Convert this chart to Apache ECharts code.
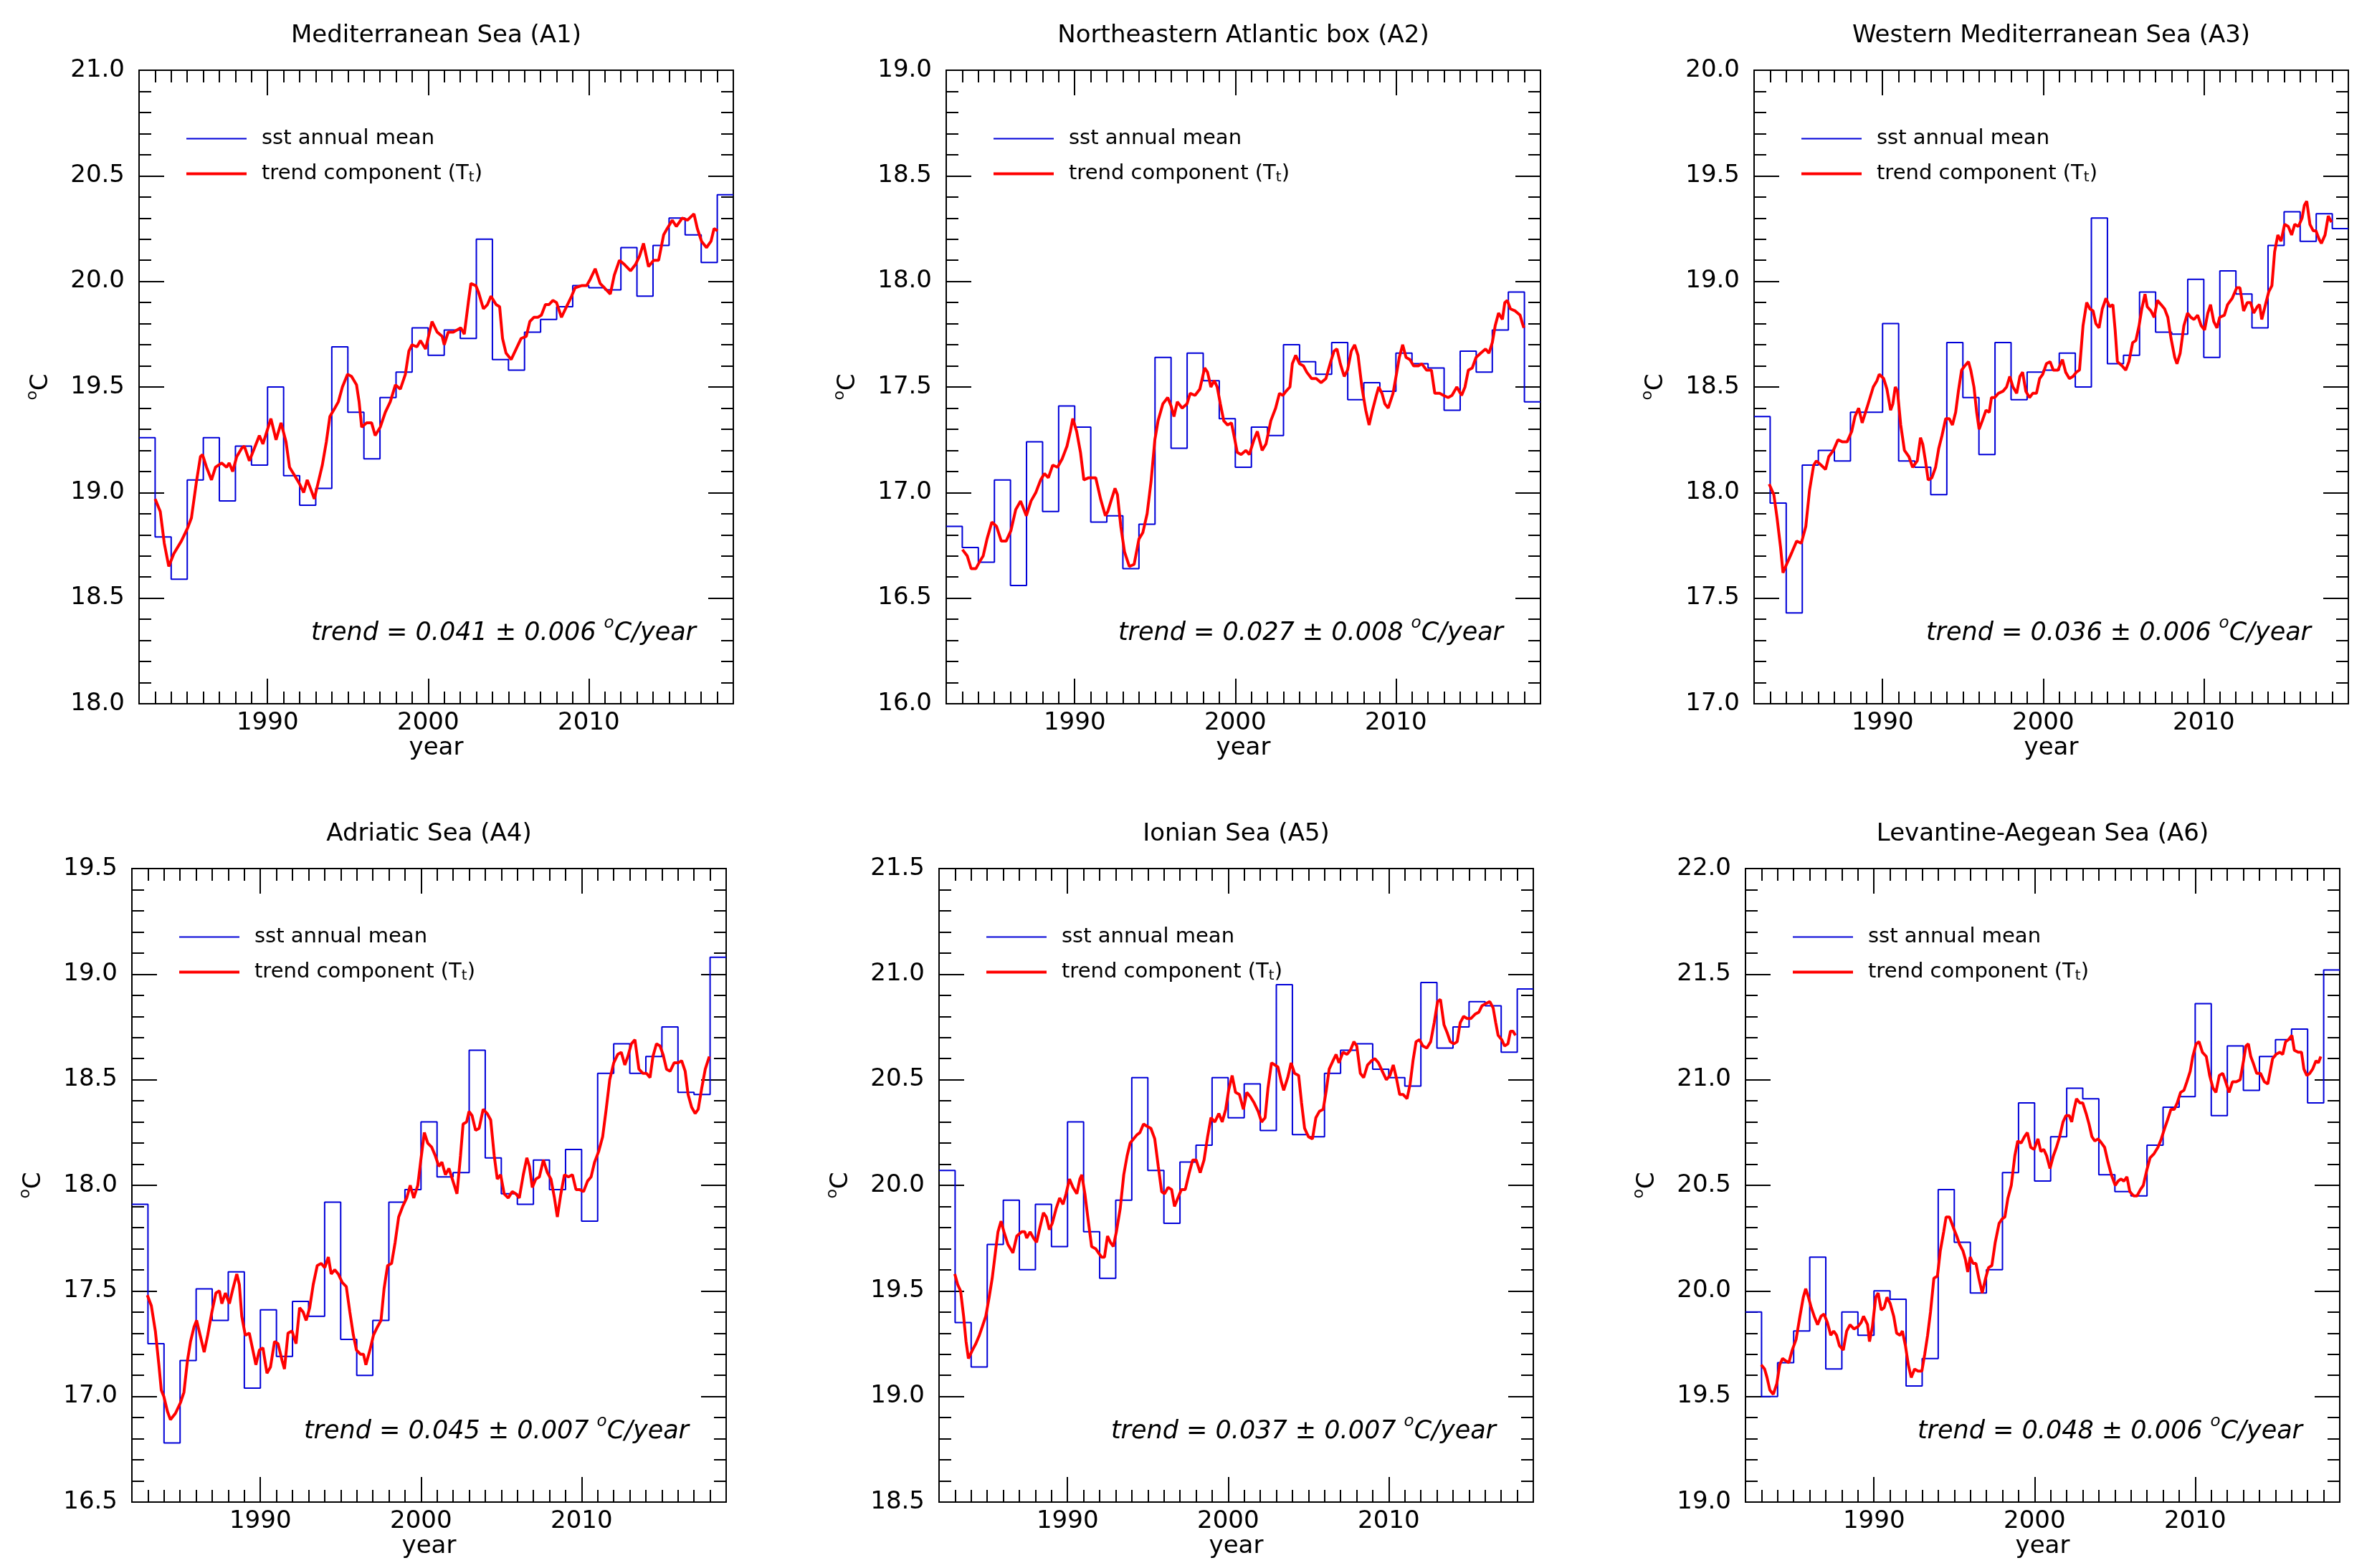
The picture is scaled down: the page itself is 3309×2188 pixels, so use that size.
<!DOCTYPE html>
<html>
<head>
  <meta charset="utf-8">
  <title>SST annual mean and trend component</title>
  <script src="https://cdn.jsdelivr.net/npm/echarts@6/dist/echarts.min.js"></script>
  <style>
    html, body {
      margin: 0;
      padding: 0;
      background: #fff;
    }

    #chart {
      width: 3309px;
      height: 2188px;
    }
  </style>
</head>
<body>
<div id="chart"></div>
<script>
  // 年份与刻度
  var years = [1982, 1983, 1984, 1985, 1986, 1987, 1988, 1989, 1990, 1991, 1992, 1993, 1994,
    1995, 1996, 1997, 1998, 1999, 2000, 2001, 2002, 2003, 2004, 2005, 2006, 2007, 2008,
    2009, 2010, 2011, 2012, 2013, 2014, 2015, 2016, 2017, 2018];
  var yearTicks = [1990, 2000, 2010];

  var titles = ['Mediterranean Sea (A1)', 'Northeastern Atlantic box (A2)', 'Western Mediterranean Sea (A3)',
    'Adriatic Sea (A4)', 'Ionian Sea (A5)', 'Levantine-Aegean Sea (A6)'];
  var trendValues = ['0.041', '0.027', '0.036', '0.045', '0.037', '0.048'];
  var trendErrors = ['0.006', '0.008', '0.006', '0.007', '0.007', '0.006'];
  var yMin = [18, 16, 17, 16.5, 18.5, 19];
  var yMax = [21, 19, 20, 19.5, 21.5, 22];

  // 年平均 sst
  var annualA1 = [19.26, 18.79, 18.59, 19.06, 19.26, 18.96, 19.22, 19.13, 19.50, 19.08, 18.94, 19.02, 19.69,
    19.38, 19.16, 19.45, 19.57, 19.78, 19.65, 19.77, 19.73, 20.20, 19.63, 19.58, 19.76, 19.82, 19.88,
    19.98, 19.97, 19.96, 20.16, 19.93, 20.17, 20.30, 20.22, 20.09, 20.41];
  var annualA2 = [16.84, 16.74, 16.67, 17.06, 16.56, 17.24, 16.91, 17.41, 17.31, 16.86, 16.89, 16.64, 16.85,
    17.64, 17.21, 17.66, 17.53, 17.35, 17.12, 17.31, 17.27, 17.70, 17.62, 17.56, 17.71, 17.44, 17.52,
    17.48, 17.66, 17.61, 17.59, 17.39, 17.67, 17.57, 17.77, 17.95, 17.43];
  var annualA3 = [18.36, 17.95, 17.43, 18.13, 18.20, 18.15, 18.38, 18.38, 18.80, 18.15, 18.12, 17.99, 18.71,
    18.45, 18.18, 18.71, 18.44, 18.57, 18.58, 18.66, 18.50, 19.30, 18.61, 18.65, 18.95, 18.76, 18.75,
    19.01, 18.64, 19.05, 18.94, 18.78, 19.17, 19.33, 19.19, 19.32, 19.25];
  var annualA4 = [17.91, 17.25, 16.78, 17.17, 17.51, 17.36, 17.59, 17.04, 17.41, 17.19, 17.45, 17.38, 17.92,
    17.27, 17.10, 17.36, 17.92, 17.98, 18.30, 18.04, 18.06, 18.64, 18.13, 17.96, 17.91, 18.12, 17.98,
    18.17, 17.83, 18.53, 18.67, 18.53, 18.61, 18.75, 18.44, 18.43, 19.08];
  var annualA5 = [20.07, 19.35, 19.14, 19.72, 19.93, 19.60, 19.91, 19.71, 20.30, 19.78, 19.56, 19.93, 20.51,
    20.07, 19.82, 20.11, 20.19, 20.51, 20.32, 20.48, 20.26, 20.95, 20.24, 20.23, 20.53, 20.64, 20.67,
    20.55, 20.51, 20.47, 20.96, 20.65, 20.75, 20.87, 20.85, 20.63, 20.93];
  var annualA6 = [19.90, 19.50, 19.66, 19.81, 20.16, 19.63, 19.90, 19.79, 20.00, 19.96, 19.55, 19.68, 20.48,
    20.23, 19.99, 20.10, 20.56, 20.89, 20.52, 20.73, 20.96, 20.91, 20.55, 20.47, 20.45, 20.69, 20.87,
    20.92, 21.36, 20.83, 21.16, 20.95, 21.11, 21.19, 21.24, 20.89, 21.52];

  // 趋势分量 [年, 值]
  var trendA1 = [[1983.00, 18.97], [1983.32, 18.91], [1983.57, 18.76], [1983.85, 18.65], [1984.16, 18.71],
    [1984.63, 18.77], [1985.01, 18.83], [1985.26, 18.88], [1985.57, 19.05], [1985.82, 19.17], [1985.95, 19.18],
    [1986.20, 19.12], [1986.51, 19.06], [1986.76, 19.12], [1987.14, 19.14], [1987.45, 19.12], [1987.61, 19.14],
    [1987.83, 19.10], [1988.08, 19.17], [1988.39, 19.21], [1988.55, 19.22], [1988.87, 19.15], [1989.18, 19.21],
    [1989.49, 19.27], [1989.71, 19.23], [1989.96, 19.29], [1990.21, 19.35], [1990.53, 19.25], [1990.84, 19.33],
    [1991.15, 19.24], [1991.37, 19.12], [1991.69, 19.08], [1992.00, 19.04], [1992.25, 19.00], [1992.47, 19.06],
    [1992.72, 19.01], [1992.91, 18.97], [1993.16, 19.05], [1993.41, 19.13], [1993.66, 19.24], [1993.88, 19.36],
    [1994.19, 19.40], [1994.41, 19.43], [1994.66, 19.50], [1994.98, 19.56], [1995.23, 19.55], [1995.54, 19.51],
    [1995.70, 19.43], [1995.86, 19.31], [1996.17, 19.33], [1996.48, 19.33], [1996.70, 19.27], [1997.02, 19.31],
    [1997.33, 19.38], [1997.64, 19.43], [1997.96, 19.51], [1998.27, 19.49], [1998.58, 19.56], [1998.80, 19.67],
    [1998.99, 19.70], [1999.30, 19.69], [1999.52, 19.72], [1999.84, 19.68], [2000.24, 19.81], [2000.56, 19.76],
    [2000.87, 19.74], [2001.00, 19.70], [2001.25, 19.76], [2001.56, 19.76], [2002.03, 19.78], [2002.25, 19.75],
    [2002.50, 19.90], [2002.66, 19.99], [2002.97, 19.98], [2003.13, 19.95], [2003.44, 19.87], [2003.69, 19.89],
    [2003.91, 19.93], [2004.23, 19.89], [2004.45, 19.88], [2004.63, 19.73], [2004.85, 19.66], [2005.17, 19.63],
    [2005.48, 19.68], [2005.79, 19.73], [2006.11, 19.74], [2006.33, 19.81], [2006.58, 19.83], [2006.83, 19.83],
    [2007.05, 19.84], [2007.30, 19.89], [2007.52, 19.89], [2007.77, 19.91], [2007.99, 19.90], [2008.30, 19.83],
    [2008.61, 19.88], [2008.93, 19.93], [2009.15, 19.97], [2009.55, 19.98], [2009.87, 19.98], [2010.09, 20.01],
    [2010.40, 20.06], [2010.71, 19.99], [2010.97, 19.97], [2011.34, 19.94], [2011.59, 20.03], [2011.91, 20.10],
    [2012.22, 20.08], [2012.60, 20.05], [2012.91, 20.08], [2013.16, 20.12], [2013.41, 20.18], [2013.72, 20.07],
    [2014.04, 20.10], [2014.35, 20.10], [2014.66, 20.22], [2014.88, 20.25], [2015.20, 20.29], [2015.45, 20.26],
    [2015.82, 20.30], [2016.14, 20.29], [2016.55, 20.32], [2016.76, 20.25], [2017.02, 20.19], [2017.33, 20.16],
    [2017.61, 20.19], [2017.80, 20.25], [2018.02, 20.24]];
  var trendA2 = [[1983.01, 16.73], [1983.31, 16.70], [1983.55, 16.64], [1983.85, 16.64], [1984.06, 16.67],
    [1984.30, 16.70], [1984.54, 16.78], [1984.84, 16.86], [1985.13, 16.84], [1985.43, 16.77], [1985.73, 16.77],
    [1986.03, 16.82], [1986.33, 16.92], [1986.63, 16.96], [1986.99, 16.89], [1987.28, 16.96], [1987.58, 17.00],
    [1987.88, 17.06], [1988.12, 17.09], [1988.36, 17.07], [1988.63, 17.13], [1988.93, 17.12], [1989.22, 17.16],
    [1989.52, 17.22], [1989.73, 17.29], [1989.88, 17.35], [1990.12, 17.29], [1990.36, 17.19], [1990.57, 17.06],
    [1990.87, 17.07], [1991.31, 17.07], [1991.61, 16.97], [1991.91, 16.89], [1992.06, 16.91], [1992.30, 16.97],
    [1992.51, 17.02], [1992.66, 16.99], [1992.87, 16.84], [1993.10, 16.72], [1993.40, 16.65], [1993.70, 16.66],
    [1994.00, 16.78], [1994.24, 16.81], [1994.51, 16.90], [1994.75, 17.05], [1994.99, 17.25], [1995.19, 17.34],
    [1995.49, 17.42], [1995.79, 17.45], [1996.00, 17.41], [1996.18, 17.36], [1996.39, 17.43], [1996.69, 17.40],
    [1996.99, 17.42], [1997.19, 17.47], [1997.49, 17.46], [1997.79, 17.49], [1998.09, 17.59], [1998.27, 17.57],
    [1998.48, 17.50], [1998.69, 17.53], [1998.87, 17.50], [1999.07, 17.42], [1999.28, 17.34], [1999.52, 17.32],
    [1999.76, 17.33], [1999.97, 17.25], [2000.12, 17.19], [2000.36, 17.18], [2000.66, 17.20], [2000.87, 17.18],
    [2001.16, 17.25], [2001.37, 17.29], [2001.67, 17.20], [2001.91, 17.23], [2002.21, 17.34], [2002.51, 17.40],
    [2002.75, 17.47], [2002.96, 17.46], [2003.16, 17.48], [2003.40, 17.50], [2003.55, 17.61], [2003.76, 17.65],
    [2004.00, 17.61], [2004.24, 17.60], [2004.45, 17.57], [2004.75, 17.54], [2005.04, 17.54], [2005.34, 17.52],
    [2005.64, 17.54], [2005.94, 17.62], [2006.15, 17.67], [2006.33, 17.68], [2006.54, 17.61], [2006.78, 17.55],
    [2006.99, 17.58], [2007.22, 17.67], [2007.43, 17.70], [2007.64, 17.65], [2007.88, 17.50], [2008.12, 17.39],
    [2008.33, 17.32], [2008.54, 17.39], [2008.78, 17.46], [2008.93, 17.50], [2009.13, 17.47], [2009.31, 17.42],
    [2009.52, 17.40], [2009.82, 17.47], [2010.03, 17.56], [2010.21, 17.64], [2010.42, 17.70], [2010.63, 17.64],
    [2010.87, 17.63], [2011.10, 17.60], [2011.40, 17.60], [2011.61, 17.61], [2011.91, 17.58], [2012.21, 17.58],
    [2012.42, 17.47], [2012.72, 17.47], [2012.96, 17.46], [2013.25, 17.45], [2013.49, 17.46], [2013.79, 17.50],
    [2014.09, 17.46], [2014.30, 17.50], [2014.51, 17.58], [2014.75, 17.59], [2014.99, 17.64], [2015.28, 17.66],
    [2015.58, 17.68], [2015.79, 17.66], [2016.00, 17.71], [2016.18, 17.79], [2016.39, 17.85], [2016.63, 17.82],
    [2016.78, 17.90], [2016.93, 17.91], [2017.13, 17.87], [2017.43, 17.86], [2017.73, 17.84], [2017.88, 17.80],
    [2017.97, 17.78]];
  var trendA3 = [[1982.94, 18.04], [1983.23, 17.99], [1983.43, 17.88], [1983.65, 17.74], [1983.80, 17.62],
    [1984.08, 17.67], [1984.37, 17.72], [1984.65, 17.77], [1984.94, 17.76], [1985.22, 17.84], [1985.45, 18.01],
    [1985.71, 18.13], [1985.88, 18.15], [1986.17, 18.13], [1986.45, 18.11], [1986.65, 18.17], [1986.94, 18.20],
    [1987.22, 18.25], [1987.51, 18.24], [1987.79, 18.24], [1988.08, 18.29], [1988.28, 18.36], [1988.51, 18.40],
    [1988.73, 18.33], [1989.02, 18.40], [1989.22, 18.45], [1989.42, 18.50], [1989.65, 18.53], [1989.79, 18.56],
    [1990.07, 18.54], [1990.27, 18.49], [1990.50, 18.39], [1990.64, 18.42], [1990.79, 18.50], [1990.93, 18.48],
    [1991.13, 18.32], [1991.36, 18.20], [1991.64, 18.17], [1991.87, 18.12], [1992.16, 18.15], [1992.36, 18.26],
    [1992.50, 18.23], [1992.67, 18.15], [1992.84, 18.06], [1993.07, 18.07], [1993.30, 18.12], [1993.50, 18.21],
    [1993.70, 18.27], [1993.93, 18.35], [1994.15, 18.35], [1994.35, 18.32], [1994.55, 18.38], [1994.72, 18.48],
    [1994.92, 18.58], [1995.12, 18.60], [1995.35, 18.62], [1995.49, 18.58], [1995.69, 18.50], [1995.86, 18.38],
    [1996.01, 18.30], [1996.21, 18.34], [1996.44, 18.39], [1996.64, 18.38], [1996.78, 18.45], [1996.98, 18.45],
    [1997.21, 18.47], [1997.50, 18.48], [1997.72, 18.50], [1997.92, 18.55], [1998.12, 18.50], [1998.35, 18.47],
    [1998.55, 18.55], [1998.72, 18.57], [1998.92, 18.48], [1999.15, 18.45], [1999.35, 18.47], [1999.58, 18.47],
    [1999.78, 18.54], [1999.97, 18.56], [2000.20, 18.61], [2000.43, 18.62], [2000.63, 18.58], [2000.92, 18.58],
    [2001.20, 18.63], [2001.40, 18.57], [2001.63, 18.54], [2001.86, 18.55], [2002.06, 18.57], [2002.26, 18.58],
    [2002.48, 18.79], [2002.71, 18.90], [2002.91, 18.87], [2003.11, 18.86], [2003.28, 18.80], [2003.48, 18.78],
    [2003.68, 18.87], [2003.91, 18.92], [2004.14, 18.88], [2004.34, 18.89], [2004.48, 18.77], [2004.62, 18.62],
    [2004.91, 18.60], [2005.14, 18.58], [2005.34, 18.62], [2005.57, 18.71], [2005.77, 18.72], [2005.97, 18.79],
    [2006.14, 18.87], [2006.34, 18.94], [2006.48, 18.88], [2006.71, 18.86], [2006.91, 18.83], [2007.11, 18.91],
    [2007.34, 18.89], [2007.56, 18.87], [2007.76, 18.83], [2007.96, 18.73], [2008.19, 18.64], [2008.33, 18.61],
    [2008.53, 18.66], [2008.76, 18.79], [2008.99, 18.85], [2009.19, 18.83], [2009.39, 18.82], [2009.62, 18.84],
    [2009.84, 18.79], [2010.05, 18.77], [2010.25, 18.85], [2010.42, 18.89], [2010.62, 18.81], [2010.82, 18.78],
    [2010.99, 18.83], [2011.28, 18.84], [2011.48, 18.89], [2011.77, 18.92], [2012.05, 18.97], [2012.25, 18.97],
    [2012.48, 18.86], [2012.71, 18.90], [2012.91, 18.90], [2013.11, 18.85], [2013.33, 18.88], [2013.47, 18.89],
    [2013.61, 18.82], [2013.84, 18.89], [2014.04, 18.95], [2014.24, 18.98], [2014.41, 19.14], [2014.61, 19.22],
    [2014.81, 19.19], [2015.03, 19.27], [2015.26, 19.26], [2015.47, 19.22], [2015.66, 19.27], [2015.89, 19.26],
    [2016.12, 19.30], [2016.26, 19.36], [2016.41, 19.38], [2016.61, 19.27], [2016.81, 19.24], [2016.98, 19.24],
    [2017.18, 19.20], [2017.32, 19.18], [2017.55, 19.22], [2017.75, 19.31], [2017.95, 19.28]];
  var trendA4 = [[1982.96, 17.48], [1983.21, 17.43], [1983.46, 17.31], [1983.68, 17.15], [1983.83, 17.03],
    [1983.99, 17.00], [1984.21, 16.93], [1984.40, 16.89], [1984.71, 16.92], [1985.02, 16.97], [1985.24, 17.02],
    [1985.46, 17.17], [1985.65, 17.26], [1985.87, 17.33], [1986.03, 17.36], [1986.25, 17.29], [1986.50, 17.21],
    [1986.72, 17.29], [1986.98, 17.40], [1987.23, 17.49], [1987.45, 17.50], [1987.60, 17.44], [1987.82, 17.49],
    [1988.07, 17.44], [1988.29, 17.51], [1988.53, 17.58], [1988.69, 17.53], [1988.84, 17.38], [1989.06, 17.29],
    [1989.31, 17.30], [1989.53, 17.22], [1989.72, 17.15], [1989.94, 17.22], [1990.16, 17.23], [1990.41, 17.11],
    [1990.63, 17.14], [1990.88, 17.26], [1991.10, 17.25], [1991.35, 17.17], [1991.50, 17.13], [1991.72, 17.30],
    [1991.97, 17.31], [1992.22, 17.25], [1992.44, 17.42], [1992.66, 17.40], [1992.85, 17.36], [1993.07, 17.42],
    [1993.29, 17.53], [1993.54, 17.62], [1993.79, 17.63], [1994.01, 17.61], [1994.23, 17.66], [1994.41, 17.58],
    [1994.63, 17.60], [1994.85, 17.58], [1995.10, 17.54], [1995.35, 17.52], [1995.57, 17.40], [1995.79, 17.29],
    [1995.98, 17.22], [1996.23, 17.20], [1996.42, 17.20], [1996.57, 17.15], [1996.82, 17.22], [1997.04, 17.29],
    [1997.29, 17.33], [1997.51, 17.36], [1997.70, 17.51], [1997.92, 17.62], [1998.17, 17.63], [1998.39, 17.73],
    [1998.61, 17.85], [1998.86, 17.90], [1999.11, 17.94], [1999.33, 18.00], [1999.55, 17.94], [1999.80, 18.00],
    [1999.99, 18.12], [2000.21, 18.25], [2000.42, 18.20], [2000.67, 18.18], [2000.89, 18.14], [2001.11, 18.09],
    [2001.30, 18.11], [2001.52, 18.05], [2001.74, 18.08], [2001.99, 18.02], [2002.24, 17.96], [2002.46, 18.14],
    [2002.62, 18.29], [2002.84, 18.30], [2002.99, 18.35], [2003.18, 18.33], [2003.40, 18.26], [2003.62, 18.27],
    [2003.87, 18.36], [2004.12, 18.34], [2004.34, 18.31], [2004.56, 18.14], [2004.75, 18.03], [2004.96, 18.05],
    [2005.18, 17.96], [2005.43, 17.94], [2005.68, 17.97], [2005.90, 17.96], [2006.12, 17.94], [2006.37, 18.05],
    [2006.59, 18.13], [2006.75, 18.09], [2006.93, 17.99], [2007.15, 18.03], [2007.37, 18.04], [2007.62, 18.12],
    [2007.87, 18.06], [2008.09, 18.03], [2008.31, 17.94], [2008.49, 17.85], [2008.71, 17.96], [2008.93, 18.05],
    [2009.18, 18.04], [2009.43, 18.05], [2009.65, 17.98], [2009.87, 17.98], [2010.12, 17.97], [2010.37, 18.02],
    [2010.59, 18.04], [2010.81, 18.11], [2011.06, 18.16], [2011.31, 18.23], [2011.53, 18.36], [2011.75, 18.50],
    [2012.00, 18.58], [2012.25, 18.62], [2012.47, 18.63], [2012.69, 18.57], [2012.88, 18.61], [2013.10, 18.67],
    [2013.32, 18.69], [2013.57, 18.55], [2013.82, 18.53], [2014.04, 18.53], [2014.26, 18.51], [2014.44, 18.61],
    [2014.66, 18.67], [2014.88, 18.66], [2015.07, 18.62], [2015.29, 18.55], [2015.51, 18.54], [2015.76, 18.58],
    [2016.01, 18.58], [2016.23, 18.59], [2016.45, 18.54], [2016.63, 18.43], [2016.85, 18.37], [2017.07, 18.34],
    [2017.26, 18.36], [2017.48, 18.46], [2017.70, 18.55], [2017.95, 18.61]];
  var trendA5 = [[1982.98, 19.58], [1983.16, 19.53], [1983.34, 19.50], [1983.53, 19.38], [1983.68, 19.26],
    [1983.83, 19.18], [1984.08, 19.22], [1984.29, 19.25], [1984.51, 19.29], [1984.69, 19.33], [1984.91, 19.38],
    [1985.12, 19.47], [1985.31, 19.56], [1985.52, 19.69], [1985.67, 19.78], [1985.86, 19.83], [1986.04, 19.78],
    [1986.29, 19.72], [1986.60, 19.68], [1986.84, 19.76], [1987.15, 19.78], [1987.34, 19.78], [1987.46, 19.75],
    [1987.67, 19.78], [1987.88, 19.75], [1988.07, 19.73], [1988.28, 19.80], [1988.50, 19.87], [1988.68, 19.85],
    [1988.87, 19.79], [1989.05, 19.82], [1989.29, 19.89], [1989.51, 19.94], [1989.72, 19.91], [1989.91, 19.96],
    [1990.12, 20.03], [1990.34, 19.99], [1990.58, 19.96], [1990.77, 20.03], [1990.89, 20.05], [1991.08, 19.96],
    [1991.26, 19.85], [1991.50, 19.71], [1991.75, 19.70], [1991.93, 19.68], [1992.12, 19.66], [1992.30, 19.66],
    [1992.49, 19.76], [1992.67, 19.73], [1992.85, 19.71], [1993.04, 19.78], [1993.28, 19.89], [1993.50, 20.05],
    [1993.71, 20.14], [1993.90, 20.20], [1994.11, 20.22], [1994.33, 20.24], [1994.51, 20.25], [1994.73, 20.29],
    [1994.94, 20.28], [1995.19, 20.27], [1995.43, 20.22], [1995.65, 20.09], [1995.86, 19.97], [1996.04, 19.96],
    [1996.26, 19.99], [1996.48, 19.98], [1996.66, 19.90], [1996.87, 19.94], [1997.09, 19.98], [1997.33, 19.98],
    [1997.58, 20.06], [1997.79, 20.12], [1998.01, 20.12], [1998.26, 20.06], [1998.50, 20.12], [1998.72, 20.23],
    [1998.93, 20.32], [1999.17, 20.30], [1999.42, 20.34], [1999.63, 20.30], [1999.85, 20.36], [2000.03, 20.45],
    [2000.25, 20.52], [2000.46, 20.44], [2000.70, 20.43], [2000.95, 20.36], [2001.16, 20.44], [2001.38, 20.42],
    [2001.62, 20.39], [2001.87, 20.35], [2002.08, 20.30], [2002.30, 20.32], [2002.48, 20.46], [2002.70, 20.58],
    [2002.91, 20.57], [2003.10, 20.56], [2003.31, 20.49], [2003.46, 20.45], [2003.71, 20.51], [2003.92, 20.58],
    [2004.14, 20.53], [2004.39, 20.52], [2004.57, 20.39], [2004.76, 20.27], [2005.00, 20.23], [2005.25, 20.22],
    [2005.46, 20.32], [2005.68, 20.35], [2005.92, 20.36], [2006.11, 20.45], [2006.29, 20.55], [2006.53, 20.59],
    [2006.72, 20.62], [2006.90, 20.58], [2007.15, 20.63], [2007.40, 20.62], [2007.61, 20.64], [2007.83, 20.68],
    [2008.01, 20.66], [2008.23, 20.53], [2008.44, 20.51], [2008.68, 20.57], [2008.93, 20.59], [2009.14, 20.60],
    [2009.36, 20.58], [2009.60, 20.54], [2009.85, 20.50], [2010.07, 20.52], [2010.28, 20.57], [2010.47, 20.51],
    [2010.68, 20.43], [2010.90, 20.43], [2011.14, 20.41], [2011.33, 20.48], [2011.51, 20.59], [2011.70, 20.68],
    [2011.91, 20.69], [2012.12, 20.66], [2012.37, 20.65], [2012.61, 20.68], [2012.83, 20.77], [2013.04, 20.87],
    [2013.22, 20.88], [2013.44, 20.76], [2013.65, 20.72], [2013.83, 20.68], [2014.05, 20.67], [2014.26, 20.68],
    [2014.45, 20.77], [2014.66, 20.80], [2014.88, 20.79], [2015.12, 20.79], [2015.37, 20.81], [2015.61, 20.82],
    [2015.80, 20.85], [2016.04, 20.86], [2016.29, 20.87], [2016.50, 20.84], [2016.66, 20.77], [2016.81, 20.71],
    [2017.03, 20.69], [2017.21, 20.66], [2017.42, 20.67], [2017.58, 20.73], [2017.73, 20.73], [2017.89, 20.71]];
  var trendA6 = [[1982.98, 19.65], [1983.19, 19.63], [1983.34, 19.59], [1983.52, 19.53], [1983.73, 19.51],
    [1983.95, 19.56], [1984.13, 19.65], [1984.31, 19.68], [1984.49, 19.67], [1984.70, 19.66], [1984.91, 19.72],
    [1985.15, 19.77], [1985.39, 19.88], [1985.60, 19.97], [1985.75, 20.01], [1985.92, 19.97], [1986.10, 19.92],
    [1986.28, 19.88], [1986.49, 19.84], [1986.70, 19.88], [1986.89, 19.89], [1987.10, 19.85], [1987.31, 19.79],
    [1987.49, 19.81], [1987.67, 19.79], [1987.85, 19.74], [1988.09, 19.72], [1988.30, 19.81], [1988.51, 19.84],
    [1988.75, 19.82], [1988.99, 19.83], [1989.20, 19.85], [1989.35, 19.88], [1989.60, 19.84], [1989.72, 19.76],
    [1989.90, 19.83], [1990.11, 19.97], [1990.26, 19.99], [1990.45, 19.91], [1990.63, 19.92], [1990.81, 19.97],
    [1991.01, 19.94], [1991.23, 19.88], [1991.41, 19.80], [1991.62, 19.79], [1991.77, 19.81], [1991.96, 19.74],
    [1992.14, 19.65], [1992.32, 19.59], [1992.53, 19.63], [1992.74, 19.62], [1992.98, 19.62], [1993.16, 19.70],
    [1993.34, 19.79], [1993.52, 19.90], [1993.73, 20.06], [1993.95, 20.07], [1994.13, 20.19], [1994.34, 20.28],
    [1994.49, 20.35], [1994.70, 20.35], [1994.94, 20.30], [1995.15, 20.26], [1995.33, 20.22], [1995.54, 20.19],
    [1995.69, 20.15], [1995.84, 20.09], [1995.99, 20.16], [1996.17, 20.13], [1996.35, 20.13], [1996.53, 20.06],
    [1996.74, 19.99], [1996.95, 20.06], [1997.13, 20.11], [1997.34, 20.12], [1997.55, 20.23], [1997.79, 20.32],
    [1997.97, 20.34], [1998.15, 20.35], [1998.34, 20.44], [1998.55, 20.50], [1998.77, 20.64], [1998.95, 20.71],
    [1999.16, 20.70], [1999.37, 20.73], [1999.55, 20.75], [1999.76, 20.68], [1999.97, 20.67], [2000.21, 20.72],
    [2000.39, 20.66], [2000.57, 20.67], [2000.75, 20.64], [2000.96, 20.58], [2001.17, 20.64], [2001.36, 20.68],
    [2001.56, 20.73], [2001.77, 20.80], [2001.95, 20.83], [2002.16, 20.83], [2002.31, 20.80], [2002.46, 20.86],
    [2002.61, 20.91], [2002.82, 20.89], [2003.00, 20.89], [2003.21, 20.84], [2003.39, 20.79], [2003.57, 20.73],
    [2003.75, 20.71], [2003.96, 20.72], [2004.17, 20.70], [2004.36, 20.68], [2004.57, 20.61], [2004.78, 20.55],
    [2005.02, 20.50], [2005.20, 20.52], [2005.38, 20.53], [2005.56, 20.52], [2005.75, 20.54], [2005.93, 20.47],
    [2006.17, 20.45], [2006.38, 20.45], [2006.59, 20.48], [2006.77, 20.50], [2006.98, 20.57], [2007.19, 20.63],
    [2007.44, 20.65], [2007.68, 20.68], [2007.89, 20.72], [2008.10, 20.77], [2008.28, 20.81], [2008.49, 20.86],
    [2008.70, 20.86], [2008.88, 20.89], [2009.09, 20.94], [2009.30, 20.95], [2009.48, 20.99], [2009.69, 21.04],
    [2009.85, 21.11], [2010.06, 21.17], [2010.24, 21.18], [2010.45, 21.13], [2010.69, 21.11], [2010.90, 21.02],
    [2011.11, 20.96], [2011.29, 20.94], [2011.50, 21.02], [2011.72, 21.03], [2011.90, 20.99], [2012.11, 20.94],
    [2012.32, 20.99], [2012.56, 20.99], [2012.80, 21.00], [2013.01, 21.09], [2013.16, 21.16], [2013.31, 21.17],
    [2013.46, 21.11], [2013.61, 21.08], [2013.83, 21.03], [2014.07, 21.03], [2014.31, 20.99], [2014.52, 20.98],
    [2014.67, 21.04], [2014.82, 21.10], [2015.03, 21.12], [2015.27, 21.13], [2015.45, 21.12], [2015.63, 21.18],
    [2015.81, 21.19], [2016.02, 21.21], [2016.17, 21.14], [2016.41, 21.13], [2016.62, 21.13], [2016.77, 21.05],
    [2016.95, 21.02], [2017.13, 21.03], [2017.31, 21.05], [2017.52, 21.09], [2017.67, 21.08], [2017.82, 21.11]];

  var annualList = [annualA1, annualA2, annualA3, annualA4, annualA5, annualA6];
  var trendList = [trendA1, trendA2, trendA3, trendA4, trendA5, trendA6];

  // 版面：每个子图的绘图区左上角
  var gridPos = [[194, 98], [1320, 98], [2447, 98], [184, 1212], [1310, 1212], [2435, 1212]];
  var gridW = 829;
  var gridH = 884;
  var FONT = 'DejaVu Sans';
  var BLUE = '#0000d8';
  var RED = '#ff0000';
  var NAME_MEAN = 'sst annual mean';
  var NAME_TREND = 'trend component (Tt)';

  var chart = echarts.init(document.getElementById('chart'));

  var grids = [], xAxes = [], yAxes = [], series = [], legends = [], graphics = [];
  var tickLine = {color: '#000', width: 2};

  function xAxisBase(i, position) {
    return {
      gridIndex: i, type: 'value', min: years[0], max: years[years.length - 1] + 1,
      position: position, axisLine: {show: true, onZero: false, lineStyle: {color: '#000', width: 2}},
      splitLine: {show: false}
    };
  }

  function yAxisBase(i, position) {
    return {
      gridIndex: i, type: 'value', min: yMin[i], max: yMax[i], interval: 0.5, position: position,
      axisLine: {show: true, onZero: false, lineStyle: {color: '#000', width: 2}},
      axisTick: {show: true, inside: true, length: 35, lineStyle: tickLine},
      minorTick: {show: true, splitNumber: 5, length: 17, lineStyle: tickLine},
      splitLine: {show: false}, minorSplitLine: {show: false}
    };
  }

  for (var i = 0; i < 6; i++) {
    var gx = gridPos[i][0], gy = gridPos[i][1];
    grids.push({left: gx, top: gy, width: gridW, height: gridH, containLabel: false});

    // 底部主刻度（带标签）
    var xMajor = xAxisBase(i, 'bottom');
    xMajor.axisTick = {show: true, inside: true, length: 35, customValues: yearTicks, lineStyle: tickLine};
    xMajor.axisLabel = {
      show: true, customValues: yearTicks, fontSize: 34, fontFamily: FONT, color: '#000', margin: 10,
      formatter: function (v) { return String(v); }
    };
    xMajor.name = 'year';
    xMajor.nameLocation = 'middle';
    xMajor.nameGap = 40;
    xMajor.nameTextStyle = {fontSize: 34, fontFamily: FONT, color: '#000'};
    xAxes.push(xMajor);
    // 底部次刻度（逐年）
    var xMinor = xAxisBase(i, 'bottom');
    xMinor.interval = 1;
    xMinor.axisTick = {show: true, inside: true, length: 17, lineStyle: tickLine};
    xMinor.axisLabel = {show: false};
    xAxes.push(xMinor);
    // 顶部
    var xTop = xAxisBase(i, 'top');
    xTop.axisTick = {show: true, inside: true, length: 35, customValues: yearTicks, lineStyle: tickLine};
    xTop.axisLabel = {show: false};
    xAxes.push(xTop);
    var xTopMinor = xAxisBase(i, 'top');
    xTopMinor.interval = 1;
    xTopMinor.axisTick = {show: true, inside: true, length: 17, lineStyle: tickLine};
    xTopMinor.axisLabel = {show: false};
    xAxes.push(xTopMinor);

    var yLeft = yAxisBase(i, 'left');
    yLeft.axisLabel = {
      show: true, fontSize: 34, fontFamily: FONT, color: '#000', margin: 20,
      showMinLabel: true, showMaxLabel: true,
      formatter: function (v) { return v.toFixed(1); }
    };
    yLeft.name = '{s|o}{n|C}';
    yLeft.nameLocation = 'middle';
    yLeft.nameRotate = 90;
    yLeft.nameGap = 120;
    yLeft.nameTextStyle = {
      fontFamily: FONT, color: '#000',
      rich: {
        s: {fontSize: 22, fontFamily: FONT, lineHeight: 16, verticalAlign: 'top'},
        n: {fontSize: 34, fontFamily: FONT, lineHeight: 40, verticalAlign: 'bottom'}
      }
    };
    yAxes.push(yLeft);
    var yRight = yAxisBase(i, 'right');
    yRight.axisLabel = {show: false};
    yAxes.push(yRight);

    // 年平均阶梯线
    var annual = annualList[i];
    var stepData = annual.map(function (v, k) { return [years[k], v]; });
    stepData.push([years[years.length - 1] + 1, annual[annual.length - 1]]);
    series.push({
      name: NAME_MEAN, type: 'line', step: 'end', xAxisIndex: 4 * i, yAxisIndex: 2 * i,
      data: stepData, symbol: 'none', lineStyle: {color: BLUE, width: 2}, itemStyle: {color: BLUE},
      z: 2, silent: true
    });
    // 趋势分量
    series.push({
      name: NAME_TREND, type: 'line', xAxisIndex: 4 * i, yAxisIndex: 2 * i,
      data: trendList[i], symbol: 'none', lineStyle: {color: RED, width: 4}, itemStyle: {color: RED},
      z: 3, silent: true
    });

    legends.push({
      left: gx + 64, top: gy + 81, orient: 'vertical', padding: 0,
      itemWidth: 84, itemHeight: 20, itemGap: 20, selectedMode: false,
      itemStyle: {opacity: 0},
      data: [
        {name: NAME_MEAN, lineStyle: {width: 2}, itemStyle: {opacity: 0}},
        {name: NAME_TREND, lineStyle: {width: 4}, itemStyle: {opacity: 0}}
      ],
      formatter: function (name) {
        if (name === NAME_TREND) return '{a|trend component (T}{b|t}{a|)}';
        return '{a|' + name + '}';
      },
      textStyle: {
        fontFamily: FONT, color: '#000', padding: [0, 0, 0, 16],
        rich: {
          a: {fontSize: 29, fontFamily: FONT, lineHeight: 30, verticalAlign: 'middle'},
          b: {fontSize: 20, fontFamily: FONT, lineHeight: 16, verticalAlign: 'bottom'}
        }
      }
    });

    // 子图标题
    graphics.push({
      type: 'text', x: gx + gridW / 2, y: gy - 48,
      style: {text: titles[i], fontSize: 34, fontFamily: FONT, fill: '#000', align: 'center', verticalAlign: 'middle'}
    });
    // 趋势注释
    graphics.push({
      type: 'text', x: gx + gridW - 52, y: gy + gridH - 102,
      style: {
        text: '{i|trend = ' + trendValues[i] + ' \u00b1 ' + trendErrors[i] + ' }{s|o}{i|C/year}',
        fill: '#000', align: 'right', verticalAlign: 'middle',
        rich: {
          i: {fontSize: 35, fontFamily: FONT, fontStyle: 'italic', lineHeight: 42, verticalAlign: 'bottom'},
          s: {fontSize: 23, fontFamily: FONT, fontStyle: 'italic', lineHeight: 18, verticalAlign: 'top'}
        }
      }
    });
  }

  chart.setOption({
    backgroundColor: '#fff',
    animation: false,
    grid: grids,
    xAxis: xAxes,
    yAxis: yAxes,
    legend: legends,
    graphic: graphics,
    series: series
  });
</script>
</body>
</html>
